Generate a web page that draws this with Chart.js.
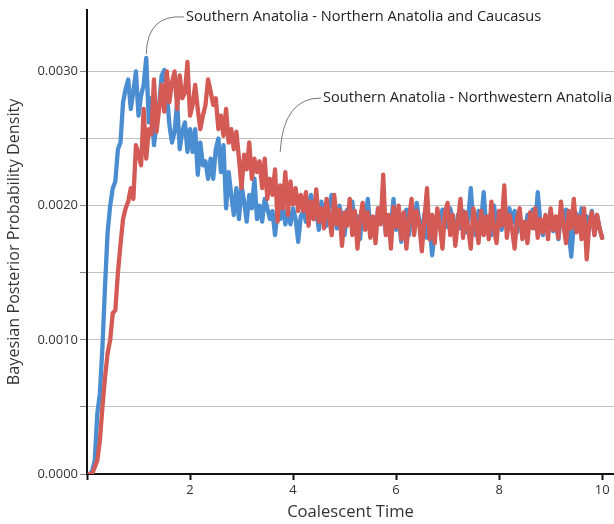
<!DOCTYPE html>
<html>
<head>
<meta charset="utf-8">
<script src="https://cdn.jsdelivr.net/npm/chart.js@4.4.1/dist/chart.umd.min.js"></script>
<style>
html,body{margin:0;padding:0;background:#fff;}
#wrap{width:614px;height:524px;position:relative;}
</style>
</head>
<body>
<div id="wrap"><canvas id="c" width="614" height="524"></canvas></div>
<script>
// Coalescent time grid (shared by both series)
const coalescentTime = [
  0.05,0.10,0.15,0.20,0.25,0.30,0.35,0.40,0.45,0.50,
  0.55,0.60,0.65,0.70,0.75,0.80,0.85,0.90,0.95,1.00,
  1.05,1.10,1.15,1.20,1.25,1.30,1.35,1.40,1.45,1.50,
  1.55,1.60,1.65,1.70,1.75,1.80,1.85,1.90,1.95,2.00,
  2.05,2.10,2.15,2.20,2.25,2.30,2.35,2.40,2.45,2.50,
  2.55,2.60,2.65,2.70,2.75,2.80,2.85,2.90,2.95,3.00,
  3.05,3.10,3.15,3.20,3.25,3.30,3.35,3.40,3.45,3.50,
  3.55,3.60,3.65,3.70,3.75,3.80,3.85,3.90,3.95,4.00,
  4.05,4.10,4.15,4.20,4.25,4.30,4.35,4.40,4.45,4.50,
  4.55,4.60,4.65,4.70,4.75,4.80,4.85,4.90,4.95,5.00,
  5.05,5.10,5.15,5.20,5.25,5.30,5.35,5.40,5.45,5.50,
  5.55,5.60,5.65,5.70,5.75,5.80,5.85,5.90,5.95,6.00,
  6.05,6.10,6.15,6.20,6.25,6.30,6.35,6.40,6.45,6.50,
  6.55,6.60,6.65,6.70,6.75,6.80,6.85,6.90,6.95,7.00,
  7.05,7.10,7.15,7.20,7.25,7.30,7.35,7.40,7.45,7.50,
  7.55,7.60,7.65,7.70,7.75,7.80,7.85,7.90,7.95,8.00,
  8.05,8.10,8.15,8.20,8.25,8.30,8.35,8.40,8.45,8.50,
  8.55,8.60,8.65,8.70,8.75,8.80,8.85,8.90,8.95,9.00,
  9.05,9.10,9.15,9.20,9.25,9.30,9.35,9.40,9.45,9.50,
  9.55,9.60,9.65,9.70,9.75,9.80,9.85,9.90,9.95,10.00
];

// Southern Anatolia - Northern Anatolia and Caucasus (blue)
const northernCaucasus = [
  0,0.00002,0.0001,0.00045,0.0006,0.00095,0.0014,0.0018,0.0020,0.00213,
  0.00218,0.00242,0.00247,0.00277,0.00287,0.00294,0.00272,0.00285,0.0030,0.00267,
  0.00282,0.0029,0.0031,0.00262,0.0028,0.00245,0.00262,0.00275,0.00297,0.00301,
  0.00284,0.0026,0.00247,0.00255,0.00277,0.00242,0.00255,0.00262,0.0024,0.00257,
  0.0024,0.00257,0.00223,0.00247,0.0023,0.00233,0.0022,0.00235,0.0022,0.00242,
  0.0025,0.00225,0.00245,0.00198,0.00225,0.00208,0.00193,0.00213,0.0019,0.00215,
  0.00203,0.00188,0.00208,0.00198,0.0022,0.0019,0.002,0.00188,0.00205,0.00198,
  0.0019,0.00196,0.00178,0.00196,0.0019,0.002,0.00186,0.00196,0.00186,0.00198,
  0.0019,0.00173,0.00192,0.00196,0.00188,0.0020,0.00208,0.0019,0.00198,0.00182,
  0.00203,0.00192,0.00185,0.002,0.00208,0.00195,0.00183,0.002,0.0019,0.00178,
  0.00197,0.00188,0.00203,0.00185,0.00192,0.00175,0.00196,0.00186,0.00205,0.00183,
  0.0019,0.00177,0.00198,0.00188,0.00195,0.0018,0.00193,0.00185,0.00205,0.00182,
  0.00192,0.00173,0.00188,0.00197,0.00178,0.00196,0.00184,0.00202,0.00188,0.0018,
  0.00194,0.00176,0.00186,0.00163,0.00182,0.00195,0.00187,0.00197,0.00192,0.00184,
  0.00198,0.00188,0.00178,0.00193,0.00183,0.00196,0.0018,0.0019,0.00213,0.00185,
  0.00178,0.00196,0.00188,0.0021,0.00183,0.00192,0.00178,0.002,0.00187,0.00195,
  0.00182,0.00193,0.00186,0.00198,0.00187,0.00196,0.0018,0.00192,0.00185,0.00178,
  0.00193,0.00186,0.00197,0.00183,0.0021,0.00188,0.00178,0.00192,0.00184,0.00196,
  0.00181,0.00189,0.00175,0.00193,0.00185,0.00197,0.00182,0.00162,0.00186,0.00194,
  0.00183,0.00198,0.00179,0.00192,0.00186,0.00196,0.00178,0.00193,0.00183,0.00176
];

// Southern Anatolia - Northwestern Anatolia (red)
const northwestern = [
  0,0,0.00005,0.0001,0.00025,0.0005,0.00072,0.0009,0.001,0.0012,
  0.00122,0.0015,0.00171,0.0019,0.00198,0.00203,0.00213,0.00205,0.00245,0.00238,
  0.0023,0.00272,0.00235,0.00257,0.00253,0.00294,0.00255,0.00272,0.0029,0.0027,
  0.003,0.00277,0.00292,0.003,0.00272,0.00297,0.0028,0.00284,0.00307,0.00267,
  0.00275,0.0029,0.00272,0.00257,0.00267,0.00275,0.00294,0.00285,0.00275,0.0028,
  0.00257,0.00267,0.00252,0.00272,0.00247,0.00257,0.00242,0.00255,0.00235,0.00213,
  0.00238,0.00227,0.00247,0.0022,0.00235,0.00225,0.00233,0.00213,0.00235,0.00205,
  0.0022,0.00208,0.00227,0.00188,0.00215,0.00198,0.00225,0.00193,0.00218,0.00201,
  0.00213,0.00196,0.00208,0.00196,0.0021,0.00185,0.00203,0.0019,0.00212,0.00188,
  0.00198,0.00183,0.00205,0.00192,0.00178,0.00208,0.00186,0.00197,0.0017,0.00195,
  0.00185,0.00205,0.00178,0.00196,0.00168,0.0019,0.00202,0.00182,0.00195,0.00176,
  0.00192,0.00172,0.00198,0.00186,0.00223,0.00178,0.00193,0.00168,0.00199,0.00184,
  0.002,0.00175,0.00195,0.00168,0.0019,0.00205,0.00178,0.00196,0.00186,0.00166,
  0.0019,0.00213,0.00175,0.00193,0.00172,0.00198,0.00185,0.00168,0.00195,0.00202,
  0.00178,0.00193,0.0017,0.00188,0.00205,0.00176,0.00195,0.00183,0.00168,0.00198,
  0.00186,0.00172,0.00196,0.00178,0.00192,0.00175,0.00203,0.00183,0.00172,0.00196,
  0.00185,0.00215,0.00176,0.00193,0.00183,0.00168,0.0019,0.00198,0.00175,0.00188,
  0.00172,0.00195,0.00183,0.00198,0.00176,0.0019,0.0018,0.00193,0.00175,0.00198,
  0.00182,0.00192,0.00176,0.00203,0.00185,0.00172,0.00196,0.00183,0.00205,0.0018,
  0.00192,0.00175,0.00198,0.0016,0.00186,0.00195,0.00178,0.00193,0.00183,0.00176
];

const yTickValues = [0,0.0005,0.0010,0.0015,0.0020,0.0025,0.0030];
const yLabelValues = [0,0.0010,0.0020,0.0030];
const xTickValues = [0,2,4,6,8,10];
const xLabelValues = [2,4,6,8,10];

const seriesNames = [
  'Southern Anatolia - Northwestern Anatolia',
  'Southern Anatolia - Northern Anatolia and Caucasus'
];

const FONT = "'Open Sans', 'Noto Sans', sans-serif";

const toPoints = arr => coalescentTime.map((x, i) => ({x: x, y: arr[i]}));

const annotations = {
  id: 'annotations',
  afterDatasetsDraw(chart) {
    const {ctx, scales: {x, y}} = chart;
    ctx.save();
    ctx.strokeStyle = '#777';
    ctx.lineWidth = 1;
    ctx.fillStyle = '#222';
    ctx.font = "14.6px " + FONT;
    ctx.textBaseline = 'middle';
    ctx.textAlign = 'left';
    // label 1 (blue peak)
    const ax1 = x.getPixelForValue(1.15), ay1 = y.getPixelForValue(0.0031) - 4;
    ctx.beginPath();
    ctx.moveTo(184, 17);
    ctx.quadraticCurveTo(ax1 + 1, 14, ax1, ay1);
    ctx.stroke();
    ctx.fillText(seriesNames[1], 186, 17);
    // label 2 (red)
    const ax2 = x.getPixelForValue(3.75), ay2 = y.getPixelForValue(0.0024);
    ctx.beginPath();
    ctx.moveTo(321, 98);
    ctx.quadraticCurveTo(ax2 + 3, 98, ax2, ay2);
    ctx.stroke();
    ctx.fillText(seriesNames[0], 323, 98);
    ctx.restore();
  }
};

new Chart(document.getElementById('c'), {
  type: 'line',
  data: {
    datasets: [
      {
        label: seriesNames[0],
        data: toPoints(northwestern),
        borderColor: '#d35a55',
        borderWidth: 4.3,
        borderJoinStyle: 'round',
        borderCapStyle: 'round',
        pointRadius: 0,
        tension: 0,
        fill: false
      },
      {
        label: seriesNames[1],
        data: toPoints(northernCaucasus),
        borderColor: '#4a8dd0',
        borderWidth: 4.3,
        borderJoinStyle: 'round',
        borderCapStyle: 'round',
        pointRadius: 0,
        tension: 0,
        fill: false
      }
    ]
  },
  options: {
    responsive: false,
    animation: false,
    layout: {padding: {top: 7, right: 0, left: 0, bottom: 0}},
    plugins: {legend: {display: false}, tooltip: {enabled: false}},
    scales: {
      x: {
        type: 'linear',
        min: 0,
        max: 10.23,
        afterBuildTicks: s => { s.ticks = xTickValues.map(v => ({value: v})); },
        afterFit: s => { s.height = 50; },
        border: {display: true, color: '#111', width: 2},
        grid: {drawOnChartArea: false, drawTicks: true, tickLength: 6, color: '#111', tickColor: '#111', tickWidth: 2},
        ticks: {
          padding: 2,
          color: '#333',
          font: {family: FONT, size: 13},
          maxRotation: 0,
          autoSkip: false,
          callback: v => xLabelValues.includes(v) ? String(v) : ''
        },
        title: {display: true, text: 'Coalescent Time', color: '#333', font: {family: FONT, size: 16.6}, padding: {top: 0, bottom: 2}}
      },
      y: {
        type: 'linear',
        min: 0,
        max: 0.003459,
        afterBuildTicks: s => { s.ticks = yTickValues.map(v => ({value: v})); },
        afterFit: s => { s.width = 87; },
        border: {display: true, color: '#111', width: 2},
        grid: {color: '#c2c2c2', lineWidth: 1, drawTicks: true, tickLength: 7, tickColor: '#888', tickWidth: 1},
        ticks: {
          padding: 2,
          color: '#333',
          font: {family: FONT, size: 13},
          autoSkip: false,
          callback: v => yLabelValues.some(t => Math.abs(t - v) < 1e-9) ? v.toFixed(4) : ''
        },
        title: {display: true, text: 'Bayesian Posterior Probability Density', color: '#333', font: {family: FONT, size: 16.2}, padding: {top: 5, bottom: 0}}
      }
    }
  },
  plugins: [annotations]
});
</script>
</body>
</html>
